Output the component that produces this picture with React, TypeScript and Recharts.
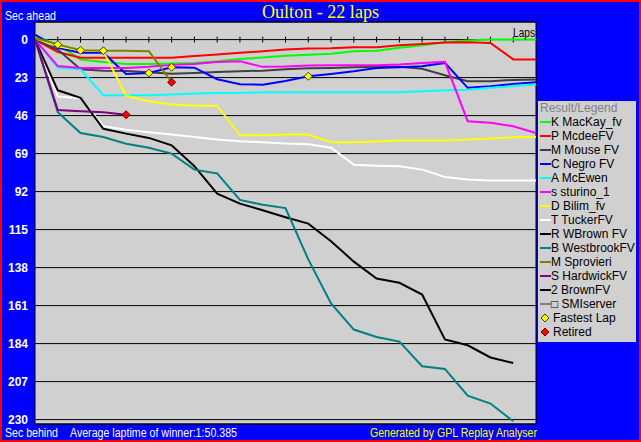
import React from "react";
import {
  ComposedChart,
  Line,
  XAxis,
  YAxis,
  CartesianGrid,
  ReferenceLine,
  ReferenceArea,
  Legend,
} from "recharts";

// gap to leader per lap, seconds (positive = behind)
const laps = [0, 1, 2, 3, 4, 5, 6, 7, 8, 9, 10, 11, 12, 13, 14, 15, 16, 17, 18, 19, 20, 21, 22];

const mackay = [-2, 3, 12, 13.5, 14.7, 14.7, 14.5, 14.1, 13.1, 11.7, 10.8, 9.8, 9.1, 8.5, 7.1, 6.7, 5, 3.4, 1.6, 0.6, 0, 0, 0];
const mcdee = [0, 7.5, 11, 11, 11, 11, 11, 10, 9, 8, 7.1, 6, 5.4, 5.2, 4.6, 4.6, 3.4, 2.6, 1.8, 1.6, 2, 12, 12];
const mouse = [0, 6, 18, 18.8, 19, 19.8, 20.6, 20.2, 19.6, 19.2, 18.8, 18, 17.4, 17.2, 16.8, 16.5, 16.5, 17.6, 21.6, 25.2, 25.2, 24.4, 24.2];
const negro = [-3, 5, 8, 8, 20.8, 20.2, 16.7, 17, 24, 27, 27.3, 25, 22.2, 20.8, 19.2, 17.2, 16.7, 16.1, 14.1, 29.2, 28.2, 26.8, 25.8];
const mcewen = [0, 17, 18, 33.7, 33.7, 33.7, 33.3, 32.7, 32.3, 32.3, 31.9, 31.9, 31.9, 31.9, 31.9, 31.9, 31.9, 31.3, 30.7, 30.3, 29.2, 28.2, 27.2];
const sturino = [0, 16, 17.2, 17.2, 17.2, 16.5, 15.3, 14.8, 13.5, 13.1, 16.5, 16.3, 15.7, 15.5, 15.5, 15.5, 15.1, 14.1, 13.5, 49.4, 50.4, 52.4, 56.5];
const bilim = [-1, 4, 6.5, 7, 34, 37.3, 39.3, 40, 40, 57.9, 57.9, 57.5, 57.5, 62.1, 62.1, 61.7, 61.1, 61.1, 61.1, 60.5, 59.9, 59.1, 58.9];
const tucker = [0, 34.5, 35.5, 52.4, 54.5, 56.1, 57.5, 58.9, 60.5, 61.5, 62.1, 62.9, 63.3, 65.5, 75.7, 76.3, 76.7, 78.7, 83.1, 84.7, 85.3, 85.3, 85.3];
const wbrown = [0, 30.7, 35.3, 54, 56.9, 59.5, 64, 76.6, 93.2, 99.3, 103.3, 107.5, 111.4, 122, 134.4, 144.6, 147.2, 154.3, 181.5, 185, 192.4, 195.7];
const westbrook = [0, 44, 56.5, 59, 63, 65.5, 69, 78.7, 81, 97, 100, 102, 133, 159.7, 175.5, 180, 182.8, 197.7, 199.3, 215.5, 220.3, 231];
const sprovieri = [-1, 3, 6.5, 6.7, 6.7, 7, 25.8];
const hardwick = [0, 42.6, 43.4, 44, 45.5];

const yTicks = [0, 23, 46, 69, 92, 115, 138, 161, 184, 207, 230];
const lapTicks = [1, 2, 3, 4, 5, 6, 7, 8, 9, 10, 11, 12, 13, 14, 15, 16, 17, 18, 19, 20, 21];

const fastestLaps = [
  { series: "sprovieri", lap: 1 },
  { series: "sprovieri", lap: 2 },
  { series: "sprovieri", lap: 3 },
  { series: "negro", lap: 5 },
  { series: "negro", lap: 6 },
  { series: "negro", lap: 12 },
];
const retiredAt = [
  { series: "sprovieri", lap: 6 },
  { series: "hardwick", lap: 4 },
];

const drivers = [
  { key: "mackay", label: "K MacKay_fv", color: "#00FF00", values: mackay },
  { key: "mcdee", label: "P McdeeFV", color: "#FF0000", values: mcdee },
  { key: "mouse", label: "M Mouse FV", color: "#404040", values: mouse },
  { key: "negro", label: "C Negro FV", color: "#0000FF", values: negro },
  { key: "mcewen", label: "A McEwen", color: "#00FFFF", values: mcewen },
  { key: "sturino", label: "s sturino_1", color: "#FF00FF", values: sturino },
  { key: "bilim", label: "D Bilim_fv", color: "#FFFF00", values: bilim },
  { key: "tucker", label: "T TuckerFV", color: "#FFFFFF", values: tucker },
  { key: "wbrown", label: "R WBrown FV", color: "#000000", values: wbrown },
  { key: "westbrook", label: "B WestbrookFV", color: "#008080", values: westbrook },
  { key: "sprovieri", label: "M Sprovieri", color: "#808000", values: sprovieri },
  { key: "hardwick", label: "S HardwickFV", color: "#800080", values: hardwick },
  { key: "brown2", label: "2 BrownFV", color: "#000000", values: [] as number[] },
  { key: "smiserver", label: " \u25A1 SMIserver", color: "#808080", values: [] as number[] },
];

const data = laps.map((lap, i) => {
  const row: Record<string, number | null> = { lap };
  drivers.forEach((d) => {
    row[d.key] = d.values[i] ?? null;
  });
  const f = fastestLaps.find((m) => m.lap === lap);
  row.fastest = f ? row[f.series] : null;
  const r = retiredAt.find((m) => m.lap === lap);
  row.retired = r ? row[r.series] : null;
  return row;
});

const FONT = '"Liberation Sans", Arial, sans-serif';
const Y_DOMAIN: [number, number] = [-10.65, 232.66];

const diamond = (fill: string, stroke: string) => (props: any) => {
  const { cx, cy, index, value } = props;
  if (value == null || cx == null || cy == null || Number.isNaN(cy)) return <g key={`e-${index}`} />;
  return (
    <polygon
      key={`m-${index}`}
      points={`${cx},${cy - 4} ${cx + 4},${cy} ${cx},${cy + 4} ${cx - 4},${cy}`}
      fill={fill}
      stroke={stroke}
      strokeWidth={1}
    />
  );
};

function DiamondIcon({ fill, stroke }: { fill: string; stroke: string }) {
  return (
    <svg width={11} height={10} style={{ marginLeft: 2, marginRight: 2 }}>
      <polygon points="5,1 9,5 5,9 1,5" fill={fill} stroke={stroke} strokeWidth={1} />
    </svg>
  );
}

function LegendBox() {
  const row = { height: 14, display: "flex", alignItems: "center", whiteSpace: "nowrap" as const };
  return (
    <div style={{ width: 98, height: 241, background: "#D0D0D0", fontFamily: FONT, fontSize: 12, color: "#000", lineHeight: "14px" }}>
      <div style={{ ...row, color: "#808080", paddingLeft: 2 }}>Result/Legend</div>
      {drivers.map((d) => (
        <div key={d.key} style={row}>
          <span style={{ display: "inline-block", width: 11, height: 2, background: d.color, marginLeft: 2 }} />
          <span>{d.label}</span>
        </div>
      ))}
      <div style={row}>
        <DiamondIcon fill="#FFFF00" stroke="#404000" />
        <span>Fastest Lap</span>
      </div>
      <div style={row}>
        <DiamondIcon fill="#FF0000" stroke="#600000" />
        <span>Retired</span>
      </div>
    </div>
  );
}

export default function App() {
  return (
    <div style={{ position: "absolute", left: 0, top: 0, width: 641, height: 442, background: "#0000FF", overflow: "hidden" }}>
      <ComposedChart width={641} height={442} data={data} margin={{ top: 22, right: 105, bottom: 18, left: 0 }}>
        <CartesianGrid vertical={false} stroke="#000000" strokeOpacity={1} fill="#D0D0D0" fillOpacity={1} />
        <XAxis type="number" dataKey="lap" domain={[0, 22]} allowDataOverflow hide />
        <YAxis
          type="number"
          domain={Y_DOMAIN}
          allowDataOverflow
          reversed
          ticks={yTicks}
          interval={0}
          width={35}
          axisLine={false}
          tickLine={false}
          tickSize={6}
          tickMargin={1}
          tick={{ fill: "#FFFFFF", fontSize: 12, fontWeight: "bold", fontFamily: FONT }}
        />
        <ReferenceArea x1={0} x2={22} y1={Y_DOMAIN[0]} y2={Y_DOMAIN[1]} fill="none" stroke="#000000" strokeWidth={1} ifOverflow="visible" />
        {lapTicks.map((l) => (
          <ReferenceLine
            key={`t${l}`}
            segment={[{ x: l, y: -1.8 }, { x: l, y: 1.8 }]}
            stroke="#000000"
            strokeWidth={1}
            ifOverflow="visible"
          />
        ))}
        {drivers
          .filter((d) => d.values.length > 0)
          .map((d) => (
            <Line
              key={d.key}
              dataKey={d.key}
              name={d.label}
              type="linear"
              stroke={d.color}
              strokeWidth={2}
              dot={false}
              activeDot={false}
              connectNulls={false}
              isAnimationActive={false}
            />
          ))}
        <Line dataKey="fastest" stroke="none" dot={diamond("#FFFF00", "#404000")} activeDot={false} isAnimationActive={false} legendType="none" />
        <Line dataKey="retired" stroke="none" dot={diamond("#FF0000", "#600000")} activeDot={false} isAnimationActive={false} legendType="none" />
        <Legend
          layout="vertical"
          align="center"
          verticalAlign="middle"
          wrapperStyle={{ left: 538, top: 101, width: 98, height: 241 }}
          content={() => <LegendBox />}
        />
      </ComposedChart>
      <svg width={641} height={442} style={{ position: "absolute", left: 0, top: 0, pointerEvents: "none" }}>
        <text x={320.5} y={18} textAnchor="middle" fill="#FFFF00" fontFamily='"Liberation Serif", "Times New Roman", serif' fontSize={19} textLength={117} lengthAdjust="spacingAndGlyphs">
          Oulton - 22 laps
        </text>
        <text x={5} y={20} fill="#FFFFFF" fontFamily={FONT} fontSize={12} textLength={51} lengthAdjust="spacingAndGlyphs">
          Sec ahead
        </text>
        <text x={513} y={37} fill="#000000" fontFamily={FONT} fontSize={12} textLength={22} lengthAdjust="spacingAndGlyphs">
          Laps
        </text>
        <text x={5} y={437} fill="#FFFFFF" fontFamily={FONT} fontSize={12} textLength={53} lengthAdjust="spacingAndGlyphs">
          Sec behind
        </text>
        <text x={70} y={437} fill="#FFFFFF" fontFamily={FONT} fontSize={12} textLength={167} lengthAdjust="spacingAndGlyphs">
          Average laptime of winner:1:50.385
        </text>
        <text x={370} y={437} fill="#FFFF00" fontFamily={FONT} fontSize={12} textLength={167} lengthAdjust="spacingAndGlyphs">
          Generated by GPL Replay Analyser
        </text>
      </svg>
      <div style={{ position: "absolute", left: 0, top: 0, width: 641, height: 442, boxSizing: "border-box", border: "2px solid #FF0000", pointerEvents: "none" }} />
    </div>
  );
}
